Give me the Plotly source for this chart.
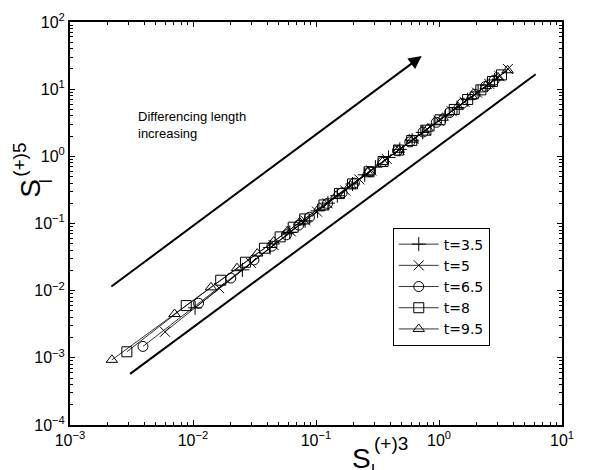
import math
import plotly.graph_objects as go

# ---- data ----
labels = ['t=3.5', 't=5', 't=6.5', 't=8', 't=9.5']
symbols = ['cross-thin-open', 'x-thin-open', 'circle-open', 'square-open', 'triangle-up-open']

s3_t35 = [0.0104, 0.0252, 0.0424, 0.0612, 0.0815, 0.103, 0.125, 0.149, 0.198, 0.249, 0.304,
          0.389, 0.480, 0.605, 0.738, 0.912, 1.13, 1.40, 1.71, 2.08, 2.47, 2.83]
s5_t35 = [0.00555, 0.0204, 0.0439, 0.0735, 0.110, 0.154, 0.201, 0.259, 0.388, 0.530, 0.690,
          0.962, 1.27, 1.74, 2.27, 3.01, 4.01, 5.32, 6.98, 9.10, 11.5, 13.7]

s3_t5 = [0.00592, 0.0163, 0.0296, 0.0451, 0.0625, 0.0817, 0.102, 0.124, 0.173, 0.225, 0.282,
         0.375, 0.476, 0.622, 0.780, 0.993, 1.27, 1.61, 2.04, 2.56, 3.10, 3.63]
s5_t5 = [0.00244, 0.0109, 0.0259, 0.0479, 0.0759, 0.111, 0.150, 0.200, 0.310, 0.453, 0.614,
         0.918, 1.26, 1.81, 2.44, 3.39, 4.69, 6.49, 8.87, 12.0, 15.6, 20.0]

s3_t65 = [0.00392, 0.0111, 0.0203, 0.0313, 0.0438, 0.0575, 0.0724, 0.0885, 0.124, 0.163, 0.205,
          0.274, 0.350, 0.460, 0.579, 0.743, 0.953, 1.22, 1.55, 1.96, 2.39, 2.81]
s5_t65 = [0.00148, 0.00650, 0.0154, 0.0287, 0.0460, 0.0679, 0.0946, 0.124, 0.199, 0.286, 0.399,
          0.589, 0.838, 1.21, 1.64, 2.30, 3.21, 4.48, 6.15, 8.39, 11.0, 13.6]

s3_t8 = [0.00290, 0.00881, 0.0168, 0.0267, 0.0381, 0.0511, 0.0653, 0.0809, 0.116, 0.155, 0.198,
         0.270, 0.351, 0.469, 0.600, 0.782, 1.02, 1.33, 1.71, 2.19, 2.72, 3.22]
s5_t8 = [0.00123, 0.00600, 0.0143, 0.0265, 0.0429, 0.0632, 0.0881, 0.117, 0.189, 0.279, 0.389,
         0.589, 0.836, 1.24, 1.72, 2.45, 3.50, 4.99, 7.01, 9.77, 13.0, 16.3]

s3_t95 = [0.00219, 0.00708, 0.0140, 0.0228, 0.0333, 0.0453, 0.0587, 0.0736, 0.107, 0.146, 0.190,
          0.263, 0.347, 0.471, 0.611, 0.809, 1.07, 1.42, 1.85, 2.40, 3.01, 3.61]
s5_t95 = [0.000933, 0.00449, 0.0112, 0.0216, 0.0357, 0.0540, 0.0766, 0.104, 0.172, 0.259, 0.368,
          0.570, 0.826, 1.25, 1.77, 2.58, 3.75, 5.46, 7.82, 11.1, 15.0, 19.1]

# reference line (lower) and arrow (upper)
ref_x = [0.00308, 6.11]
ref_y = [0.000577, 16.7]
arrow_x = [0.00211, 0.723]
arrow_y = [0.0111, 31.1]

# tick decades
x_decades = [-3, -2, -1, 0, 1]
y_decades = [-4, -3, -2, -1, 0, 1, 2]

xs = [s3_t35, s3_t5, s3_t65, s3_t8, s3_t95]
ys = [s5_t35, s5_t5, s5_t65, s5_t8, s5_t95]

FONT = 'Arial, Liberation Sans, sans-serif'


def pow_labels(decs):
    return ['10<sup>%s</sup>' % (str(d).replace('-', '\u2212')) for d in decs]


def minor_vals(decs):
    return [m * 10 ** d for d in decs[:-1] for m in range(2, 10)]


def label_piece(text, x, y, size, xshift=0, angle=0):
    fig.add_annotation(x=x, y=y, xshift=xshift, xref='paper', yref='paper',
                       xanchor='center', yanchor='middle', showarrow=False,
                       textangle=angle, text=text,
                       font=dict(family=FONT, size=size, color='black'))


fig = go.Figure()

fig.add_trace(go.Scatter(x=ref_x, y=ref_y, mode='lines',
                         line=dict(color='black', width=2), showlegend=False))

for x, y, lab, sym in zip(xs, ys, labels, symbols):
    fig.add_trace(go.Scatter(
        x=x, y=y, name=lab, mode='lines+markers',
        line=dict(color='black', width=0.8),
        marker=dict(symbol=sym, size=10, color='black', line=dict(width=1, color='black'))))

fig.add_annotation(x=math.log10(arrow_x[1]), y=math.log10(arrow_y[1]),
                   ax=math.log10(arrow_x[0]), ay=math.log10(arrow_y[0]),
                   xref='x', yref='y', axref='x', ayref='y',
                   showarrow=True, arrowhead=2, arrowsize=1.3, arrowwidth=2,
                   arrowcolor='black', text='')

fig.add_annotation(x=0.135, y=0.79, xref='paper', yref='paper',
                   xanchor='left', yanchor='top', align='left', showarrow=False,
                   text='Differencing length<br>increasing',
                   font=dict(family=FONT, size=13, color='black'))

# axis titles built from pieces (stacked sub/superscript)
label_piece('S', 0.593, -0.083, 28)
label_piece('(+)3', 0.652, -0.045, 19)
label_piece('l', 0.616, -0.113, 18)

label_piece('S', 0, 0.586, 28, xshift=-39, angle=-90)
label_piece('(+)5', 0, 0.658, 19, xshift=-50, angle=-90)
label_piece('l', 0, 0.605, 18, xshift=-24, angle=-90)

axis_common = dict(type='log', showgrid=False, automargin=False,
                   zeroline=False, showline=True, linecolor='black', linewidth=2,
                   mirror='ticks', ticks='inside', ticklen=5, tickwidth=1, tickcolor='black',
                   tickfont=dict(family=FONT, size=16, color='black'))

fig.update_xaxes(range=[-3, 1], tickmode='array',
                 tickvals=[10 ** d for d in x_decades], ticktext=pow_labels(x_decades),
                 minor=dict(tickmode='array', tickvals=minor_vals(x_decades),
                            ticks='inside', ticklen=3, tickcolor='black', showgrid=False),
                 **axis_common)
fig.update_yaxes(range=[-4, 2], tickmode='array',
                 tickvals=[10 ** d for d in y_decades], ticktext=pow_labels(y_decades),
                 minor=dict(tickmode='array', tickvals=minor_vals(y_decades),
                            ticks='inside', ticklen=3, tickcolor='black', showgrid=False),
                 **axis_common)

# page body has an 8px default margin, so the figure is 8px smaller on each side
fig.update_layout(
    width=583, height=462,
    margin=dict(l=62, r=29, t=14, b=45),
    plot_bgcolor='white', paper_bgcolor='white',
    legend=dict(x=0.656, y=0.49, xanchor='left', yanchor='top',
                bordercolor='black', borderwidth=1, bgcolor='white',
                font=dict(family='DejaVu Sans, sans-serif', size=14, color='black'),
                tracegroupgap=0, itemwidth=40),
)

fig.write_html('out.html')
